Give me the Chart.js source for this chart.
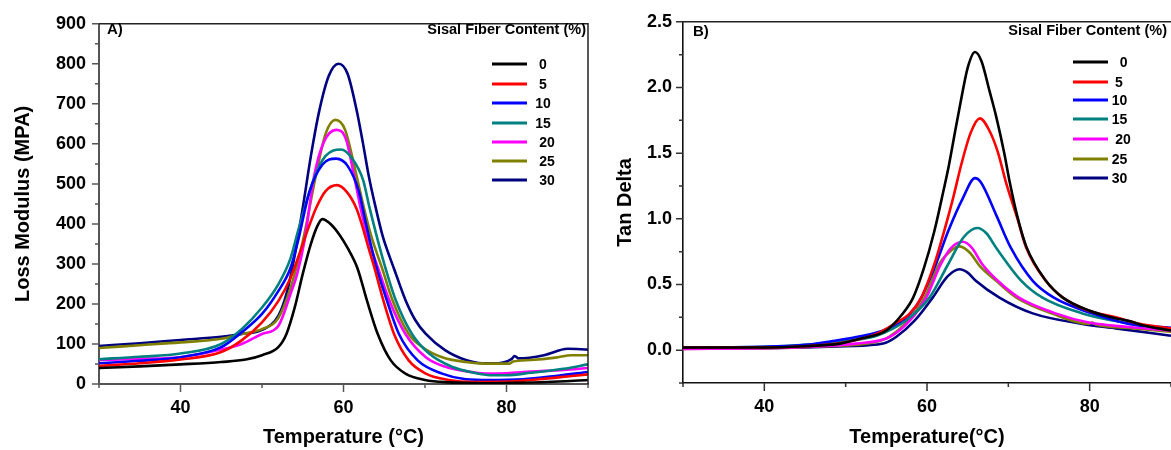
<!DOCTYPE html>
<html>
<head>
<meta charset="utf-8">
<title>Loss modulus and tan delta of sisal fiber composites</title>
<script src="https://cdn.jsdelivr.net/npm/chart.js@4.4.0/dist/chart.umd.min.js"></script>
<style>
  html, body { margin: 0; padding: 0; background: #fff; }
  body { width: 1171px; height: 450px; position: relative; overflow: hidden; }
  #chartA { position: absolute; left: 0; top: 0; }
  #chartB { position: absolute; left: 600px; top: 0; }
</style>
</head>
<body>
<canvas id="chartA" width="600" height="450"></canvas>
<canvas id="chartB" width="571" height="450"></canvas>
<script>
// series names (fiber content %) and line colours
const fiberLabels = ['0', '5', '10', '15', '20', '25', '30'];
const fiberColors = ['#000000', '#ff0000', '#0000ff', '#008080', '#ff00ff', '#808000', '#000080'];

// A) loss modulus (MPa) against temperature (°C)
const lossT0 = [30, 35, 40, 45, 48, 50, 52, 53, 54, 55, 56, 56.8, 57.4, 58.5, 59.5, 60.5, 61.7, 62.9, 64.2, 65.8, 67.6, 70, 73, 77, 81, 85, 90];
const lossV0 = [40, 44, 49, 55, 61, 72, 92, 125, 190, 275, 350, 395, 412, 398, 373, 340, 290, 207, 125, 59, 26, 10, 4, 2, 3, 5, 10];
const lossT5 = [30, 35, 40, 45, 47.5, 50, 52, 53.5, 54.5, 55.7, 56.6, 57.8, 59.2, 60.4, 61.6, 62.3, 63, 63.8, 64.8, 66.2, 68, 70.1, 72.9, 76, 80, 84, 88, 90];
const lossV5 = [45, 52, 61, 80, 109, 154, 207, 265, 320, 390, 438, 482, 497, 480, 438, 395, 345, 290, 215, 125, 59, 26, 10, 5, 6, 12, 20, 24];
const lossT10 = [30, 35, 40, 45, 47.5, 50, 52, 53.5, 54.4, 55.8, 57.4, 59.1, 60.5, 61.9, 62.7, 64, 65.3, 66.8, 69.1, 72.1, 75, 78, 82, 86, 90];
const lossV10 = [52, 58, 67, 92, 129, 175, 232, 290, 356, 479, 548, 563, 545, 480, 405, 295, 210, 125, 59, 26, 12, 10, 12, 20, 30];
const lossT15 = [30, 35, 40, 45, 47.5, 50, 52, 53.5, 54.3, 55.2, 56.4, 57.8, 59.7, 61, 62.4, 63.2, 64, 65, 66.4, 68.4, 70.5, 73.3, 76, 78, 80, 83, 87, 90];
const lossV15 = [62, 68, 76, 100, 137, 191, 249, 314, 373, 438, 515, 570, 586, 565, 510, 440, 375, 300, 210, 125, 76, 43, 28, 22, 22, 28, 38, 49];
const lossT20 = [30, 35, 40, 45, 47.5, 50, 52, 53.5, 54.3, 55.2, 56.4, 57.6, 59.1, 60.3, 61.3, 62.2, 63, 64.4, 65.6, 67.6, 70.1, 72.5, 75, 77.4, 80, 83, 87, 90];
const lossV20 = [60, 63, 67, 86, 100, 125, 145, 225, 274, 356, 520, 605, 635, 612, 520, 430, 365, 280, 210, 125, 67, 43, 32, 26, 27, 31, 35, 40];
const lossT25 = [30, 35, 40, 45, 47.5, 50, 52, 53.5, 55, 56.6, 57.8, 59, 60.2, 61.6, 62.5, 63.4, 64.8, 66, 68, 69.7, 72.1, 75, 77.4, 80.4, 80.8, 83, 86, 88, 90];
const lossV25 = [90, 97, 104, 113, 125, 137, 165, 240, 356, 520, 625, 660, 635, 520, 440, 370, 285, 210, 125, 92, 67, 55, 51, 51, 56, 60, 66, 72, 72];
const lossT30 = [30, 35, 40, 45, 47.5, 50, 52, 53, 54, 55, 56, 57, 58.2, 59.4, 60.5, 61.6, 62.4, 63.1, 63.9, 64.8, 65.5, 66.2, 67.6, 68.8, 70.1, 72.5, 75, 77, 79, 80.6, 81, 81.5, 84.6, 87.5, 90];
const lossV30 = [95, 102, 110, 118, 125, 135, 170, 225, 320, 440, 570, 680, 770, 800, 775, 685, 600, 520, 445, 370, 327, 288, 210, 160, 125, 84, 60, 52, 52, 62, 70, 64, 72, 88, 86];

// B) tan delta against temperature (°C)
const tanT0 = [30, 40, 45, 49.3, 52, 55, 57, 58.3, 59.6, 60.9, 61.8, 62.7, 63.5, 64.2, 65, 65.9, 66.7, 67.7, 68.5, 69.5, 70.2, 71.1, 72.2, 74.6, 76.7, 80, 83, 85, 86.5, 90];
const tanV0 = [0.02, 0.02, 0.03, 0.05, 0.09, 0.15, 0.277, 0.40, 0.62, 0.905, 1.15, 1.41, 1.68, 1.91, 2.15, 2.27, 2.2, 1.97, 1.78, 1.5, 1.27, 1.02, 0.79, 0.53, 0.40, 0.30, 0.245, 0.22, 0.19, 0.15];
const tanT5 = [30, 40, 45, 50, 54, 56, 57.9, 59.3, 60.9, 62.1, 63.2, 64.2, 65.4, 66.5, 67.6, 68.7, 69.7, 70.4, 71.1, 72.2, 74.6, 76.7, 79.9, 83.2, 86.1, 90];
const tanV5 = [0.02, 0.02, 0.03, 0.06, 0.13, 0.2, 0.28, 0.4, 0.654, 0.905, 1.156, 1.41, 1.66, 1.765, 1.68, 1.51, 1.28, 1.14, 1.005, 0.78, 0.528, 0.4, 0.3, 0.25, 0.2, 0.165];
const tanT10 = [30, 40, 45, 48.4, 51.3, 55, 57.9, 59.3, 61.1, 62.6, 64.4, 65.9, 66.6, 68.5, 70.3, 73, 75.6, 80.3, 84.8, 90];
const tanV10 = [0.02, 0.025, 0.04, 0.07, 0.1, 0.16, 0.277, 0.4, 0.654, 0.905, 1.156, 1.31, 1.28, 1.03, 0.78, 0.528, 0.4, 0.28, 0.2, 0.17];
const tanT15 = [30, 40, 45, 49.3, 53.8, 57.4, 60.3, 62.6, 64.5, 66.2, 67.3, 68.5, 71.6, 74.2, 79.1, 84.3, 90];
const tanV15 = [0.02, 0.025, 0.04, 0.065, 0.11, 0.226, 0.4, 0.654, 0.86, 0.93, 0.89, 0.78, 0.528, 0.4, 0.28, 0.21, 0.16];
const tanT20 = [30, 40, 45, 51.3, 55.4, 57.9, 59.9, 61.7, 63, 64.4, 65.5, 66.8, 68.7, 71.3, 75.8, 79.9, 84.8, 90];
const tanV20 = [0.01, 0.015, 0.025, 0.05, 0.1, 0.226, 0.4, 0.654, 0.78, 0.825, 0.78, 0.654, 0.528, 0.4, 0.28, 0.21, 0.176, 0.15];
const tanT25 = [30, 40, 45, 50, 53.5, 55.3, 57.7, 59.7, 61.5, 63, 64, 65.3, 66.5, 68.5, 71, 75.3, 79.9, 80.3, 80.7, 84.8, 90];
const tanV25 = [0.01, 0.015, 0.025, 0.035, 0.06, 0.1, 0.226, 0.4, 0.654, 0.76, 0.79, 0.74, 0.64, 0.528, 0.4, 0.28, 0.2, 0.21, 0.195, 0.17, 0.14];
const tanT30 = [30, 40, 45, 50, 54.6, 56.2, 58.5, 60.7, 62.5, 64, 65, 66, 68.9, 73, 79.1, 83.2, 90];
const tanV30 = [0.015, 0.015, 0.02, 0.03, 0.05, 0.1, 0.226, 0.4, 0.56, 0.616, 0.59, 0.528, 0.4, 0.28, 0.2, 0.166, 0.11];

const FONT = '"Liberation Sans", Arial, Helvetica, sans-serif';
Chart.defaults.font.family = FONT;
Chart.defaults.font.weight = 'bold';
Chart.defaults.color = '#000';

function isMajor(v, step) {
  const r = v / step;
  return Math.abs(r - Math.round(r)) < 1e-6;
}

function makeDatasets(temps, values) {
  return fiberLabels.map((label, i) => ({
    label: label,
    data: temps[i].map((t, j) => ({ x: t, y: values[i][j] })),
    borderColor: fiberColors[i],
    borderWidth: 2.6,
    pointRadius: 0,
    fill: false,
    cubicInterpolationMode: 'monotone'
  }));
}

// frame, outward ticks, panel letter and the in-plot legend
const panelDecor = {
  id: 'panelDecor',
  afterDraw(chart, args, opts) {
    const ctx = chart.ctx;
    const area = chart.chartArea;
    const xs = chart.scales.x;
    const ys = chart.scales.y;
    ctx.save();

    ctx.strokeStyle = opts.frameColor;
    ctx.lineWidth = opts.frameWidth;
    ctx.beginPath();
    ctx.moveTo(area.left, area.top);
    ctx.lineTo(area.right, area.top);
    if (opts.rightFrame) {
      ctx.lineTo(area.right, area.bottom);
    }
    ctx.stroke();

    ctx.strokeStyle = opts.tickColor;
    ctx.lineWidth = 1.5;
    ctx.beginPath();
    ys.ticks.forEach(t => {
      const py = ys.getPixelForValue(t.value);
      const len = isMajor(t.value, opts.yMajor) ? 7 : 4;
      ctx.moveTo(area.left - len, py);
      ctx.lineTo(area.left, py);
    });
    xs.ticks.forEach(t => {
      const px = xs.getPixelForValue(t.value);
      const len = isMajor(t.value, opts.xMajor) ? 8 : 4;
      ctx.moveTo(px, area.bottom);
      ctx.lineTo(px, area.bottom + len);
    });
    ctx.stroke();

    ctx.fillStyle = '#000';
    ctx.textBaseline = 'middle';
    ctx.textAlign = 'left';
    ctx.font = 'bold 15px ' + FONT;
    ctx.fillText(opts.panel, opts.panelX, opts.panelY);

    const lg = opts.legend;
    ctx.textAlign = 'right';
    ctx.font = 'bold 14.5px ' + FONT;
    ctx.fillText(lg.title, lg.titleRight, lg.titleY);

    ctx.textAlign = 'center';
    ctx.font = 'bold 14px ' + FONT;
    chart.data.datasets.forEach((ds, i) => {
      const ry = lg.rows[i];
      ctx.strokeStyle = ds.borderColor;
      ctx.lineWidth = 3;
      ctx.beginPath();
      ctx.moveTo(lg.lineX1, ry);
      ctx.lineTo(lg.lineX2, ry);
      ctx.stroke();
      ctx.fillText(ds.label, lg.textX[i], ry + 1);
    });
    ctx.restore();
  }
};

function buildChart(id, cfg) {
  const ctx = document.getElementById(id).getContext('2d');
  return new Chart(ctx, {
    type: 'line',
    data: { datasets: cfg.datasets },
    options: {
      responsive: false,
      animation: false,
      devicePixelRatio: 1,
      layout: { padding: cfg.padding },
      scales: {
        x: {
          type: 'linear',
          min: 30,
          max: 90,
          afterFit: scale => {
            scale.height = cfg.xHeight;
            // keep the plot edge where the layout padding puts it
            scale.paddingLeft = 0;
            scale.paddingRight = 0;
          },
          grid: { display: false, drawTicks: false },
          border: { display: true, color: cfg.axisColor, width: cfg.axisWidth },
          ticks: {
            stepSize: 10,
            autoSkip: false,
            maxRotation: 0,
            padding: 13,
            font: { size: 18, weight: 'bold' },
            callback: v => isMajor(v, 20) ? String(v) : ''
          },
          title: {
            display: true,
            text: cfg.xTitle,
            font: { size: 20, weight: 'bold' },
            padding: { top: 0, bottom: 1 }
          }
        },
        y: {
          min: cfg.yMin,
          max: cfg.yMax,
          afterFit: scale => { scale.width = cfg.yWidth; },
          grid: { display: false, drawTicks: false },
          border: { display: true, color: cfg.axisColor, width: cfg.axisWidth },
          ticks: {
            stepSize: cfg.yStep,
            autoSkip: false,
            padding: cfg.yPad,
            font: { size: 18, weight: 'bold' },
            callback: cfg.yLabel
          },
          title: {
            display: true,
            text: cfg.yTitle,
            font: { size: 20, weight: 'bold' },
            padding: { top: cfg.yTitlePad, bottom: 0 }
          }
        }
      },
      plugins: {
        legend: { display: false },
        tooltip: { enabled: false },
        panelDecor: cfg.decor
      }
    },
    plugins: [panelDecor]
  });
}

buildChart('chartA', {
  datasets: makeDatasets(
    [lossT0, lossT5, lossT10, lossT15, lossT20, lossT25, lossT30],
    [lossV0, lossV5, lossV10, lossV15, lossV20, lossV25, lossV30]
  ),
  padding: { left: 0, right: 12, top: 20, bottom: 0 },
  xHeight: 66,
  yWidth: 99,
  yMin: 0,
  yMax: 900,
  yStep: 50,
  yPad: 13,
  yLabel: v => isMajor(v, 100) ? String(v) : '',
  xTitle: 'Temperature (°C)',
  yTitle: 'Loss Modulus (MPA)',
  yTitlePad: 11,
  axisColor: '#555555',
  axisWidth: 2,
  decor: {
    frameColor: '#222222',
    frameWidth: 1.5,
    rightFrame: true,
    tickColor: '#555555',
    xMajor: 20,
    yMajor: 100,
    panel: 'A)',
    panelX: 107,
    panelY: 30,
    legend: {
      title: 'Sisal Fiber Content (%)',
      titleRight: 586,
      titleY: 30,
      lineX1: 492,
      lineX2: 527,
      textX: [543, 543, 543, 543, 547, 547, 547],
      rows: [64, 84, 103, 123, 142, 161, 180]
    }
  }
});

buildChart('chartB', {
  datasets: makeDatasets(
    [tanT0, tanT5, tanT10, tanT15, tanT20, tanT25, tanT30],
    [tanV0, tanV5, tanV10, tanV15, tanV20, tanV25, tanV30]
  ),
  padding: { left: 0, right: 0, top: 18, bottom: 0 },
  xHeight: 67,
  yWidth: 83,
  yMin: -0.25,
  yMax: 2.5,
  yStep: 0.25,
  yPad: 11,
  yLabel: v => isMajor(v, 0.5) ? v.toFixed(1) : '',
  xTitle: 'Temperature(°C)',
  yTitle: 'Tan Delta',
  yTitlePad: 13,
  axisColor: '#111111',
  axisWidth: 1.6,
  decor: {
    frameColor: '#222222',
    frameWidth: 1.5,
    rightFrame: false,
    tickColor: '#333333',
    xMajor: 20,
    yMajor: 0.5,
    panel: 'B)',
    panelX: 93,
    panelY: 32,
    legend: {
      title: 'Sisal Fiber Content (%)',
      titleRight: 567,
      titleY: 31,
      lineX1: 473,
      lineX2: 508,
      textX: [523.7, 519, 519.5, 519.5, 523, 519.5, 519.5],
      rows: [62, 82, 100, 119, 139, 159, 178]
    }
  }
});
</script>
</body>
</html>
